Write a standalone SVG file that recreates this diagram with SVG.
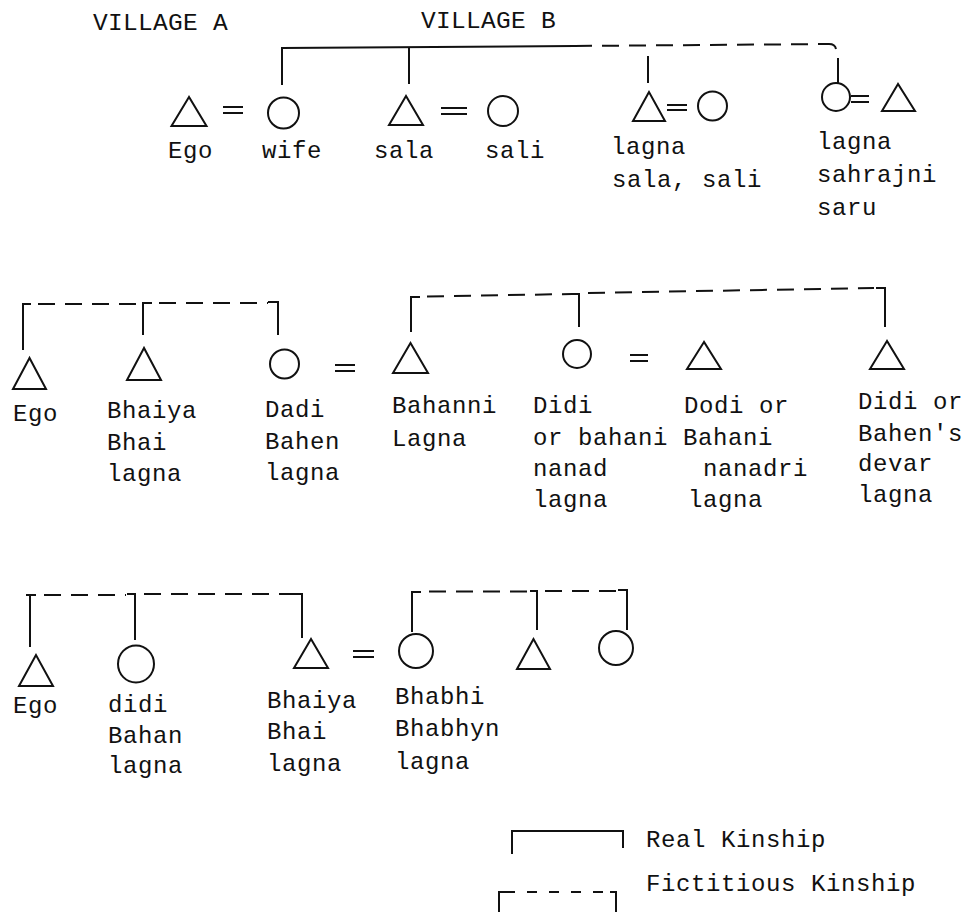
<svg xmlns="http://www.w3.org/2000/svg" width="972" height="912" viewBox="0 0 972 912">
<style>
text{font-family:"Liberation Mono","DejaVu Sans Mono",monospace;font-size:24px;letter-spacing:0.6px;fill:#111}
.hd{font-size:24.5px;letter-spacing:0.3px}
.sym{fill:none;stroke:#111;stroke-width:2}
.ln{fill:none;stroke:#111;stroke-width:2}
.ds{fill:none;stroke:#111;stroke-width:2;stroke-dasharray:17 10}
.dl{fill:none;stroke:#111;stroke-width:2;stroke-dasharray:10 12}
</style>
<rect width="972" height="912" fill="#fff"/>
<text class="hd" x="93" y="30">VILLAGE A</text>
<text class="hd" x="421" y="28">VILLAGE B</text>
<g id="connectors">
<path class="ln" d="M282,85 V48 L575,46"/>
<path class="ln" d="M409,84 V47"/>
<path class="ds" d="M575,46 L829,44"/>
<path class="ln" d="M829,44 Q835,44 836,49"/>
<path class="ln" d="M648,56 V83"/>
<path class="ln" d="M838,58 V83"/>
<path class="ln" d="M223,107 H243 M223,113 H243"/>
<path class="ln" d="M441,108 H467 M441,114 H467"/>
<path class="ln" d="M667,105 H687 M667,110 H687"/>
<path class="ln" d="M851,96 H869 M851,102 H869"/>
<path class="ln" d="M23,350 V304 H31"/>
<path class="ds" d="M38,304 H136"/>
<path class="ln" d="M143,335 V303 H152"/>
<path class="ds" d="M159,303 H268"/>
<path class="ln" d="M268,302 H278 V335"/>
<path class="ln" d="M411,332 V297 H420"/>
<path class="ds" d="M427,296.5 L572,294"/>
<path class="ln" d="M572,294 H579 V327"/>
<path class="ds" d="M588,293 L874,288"/>
<path class="ln" d="M876,288 H885 V327"/>
<path class="ln" d="M335,365 H355 M335,371 H355"/>
<path class="ln" d="M630,355 H648 M630,361 H648"/>
<path class="ln" d="M30,647 V595 M26,595 H36"/>
<path class="ds" d="M44,595 H126"/>
<path class="ln" d="M127,594 H135 V640"/>
<path class="ds" d="M144,594 H293"/>
<path class="ln" d="M293,594 H302 V638"/>
<path class="ln" d="M412,632 V592 H421"/>
<path class="ds" d="M429,591.5 H530"/>
<path class="ln" d="M530,591 H537 V630"/>
<path class="ds" d="M545,591 H618"/>
<path class="ln" d="M618,590 H627 V630"/>
<path class="ln" d="M353,651 H374 M353,657 H374"/>
</g>
<g id="top-ego"><polygon class="sym" points="189,97 171.5,126 206.5,126"/><text x="168" y="158">Ego</text></g>
<g id="top-wife"><circle class="sym" cx="283.5" cy="113" r="15.5"/><text x="262" y="158">wife</text></g>
<g id="top-sala"><polygon class="sym" points="406,96 389,125 423,125"/><text x="374" y="158">sala</text></g>
<g id="top-sali"><circle class="sym" cx="503" cy="111" r="15"/><text x="485" y="158">sali</text></g>
<g id="top-lagna-sala"><polygon class="sym" points="649,92 633,121 665,121"/><circle class="sym" cx="712.5" cy="106" r="14.5"/><text x="611" y="154">lagna</text><text x="612" y="187">sala, sali</text></g>
<g id="top-lagna-sahrajni"><circle class="sym" cx="836" cy="97" r="14"/><polygon class="sym" points="898,84 882,111 915,111"/><text x="817" y="149">lagna</text><text x="817" y="182">sahrajni</text><text x="817" y="215">saru</text></g>
<g id="mid-ego"><polygon class="sym" points="29.5,358 13,389 46,389"/><text x="13" y="421">Ego</text></g>
<g id="mid-bhaiya"><polygon class="sym" points="144,348 127,380 161,380"/><text x="107" y="418">Bhaiya</text><text x="107" y="450">Bhai</text><text x="107" y="481">lagna</text></g>
<g id="mid-dadi"><circle class="sym" cx="284.5" cy="364" r="14.5"/><text x="265" y="417">Dadi</text><text x="265" y="449">Bahen</text><text x="265" y="480">lagna</text></g>
<g id="mid-bahanni"><polygon class="sym" points="410.5,343 393,373 428,373"/><text x="392" y="413">Bahanni</text><text x="392" y="446">Lagna</text></g>
<g id="mid-didi"><circle class="sym" cx="577" cy="354" r="14"/><text x="533" y="413">Didi</text><text x="533" y="445">or bahani Bahani</text><text x="533" y="476">nanad</text><text x="533" y="507">lagna</text></g>
<g id="mid-dodi"><polygon class="sym" points="704,342 687,369 721,369"/><text x="684" y="413">Dodi or</text><text x="703" y="476">nanadri</text><text x="688" y="507">lagna</text></g>
<g id="mid-devar"><polygon class="sym" points="887,341 870,369 904,369"/><text x="858" y="409">Didi or</text><text x="858" y="441">Bahen's</text><text x="858" y="471">devar</text><text x="858" y="502">lagna</text></g>
<g id="bot-ego"><polygon class="sym" points="36,655 19,686 53,686"/><text x="13" y="713">Ego</text></g>
<g id="bot-didi"><ellipse class="sym" cx="136" cy="664" rx="18" ry="18.5"/><text x="108" y="712">didi</text><text x="108" y="743">Bahan</text><text x="108" y="773">lagna</text></g>
<g id="bot-bhaiya"><polygon class="sym" points="311,639 294,668 328,668"/><text x="267" y="708">Bhaiya</text><text x="267" y="739">Bhai</text><text x="267" y="771">lagna</text></g>
<g id="bot-bhabhi"><circle class="sym" cx="416" cy="651" r="17"/><text x="395" y="704">Bhabhi</text><text x="395" y="736">Bhabhyn</text><text x="395" y="769">lagna</text></g>
<g id="bot-sib-m"><polygon class="sym" points="533.5,639 517,669 550,669"/></g>
<g id="bot-sib-f"><circle class="sym" cx="616" cy="648" r="17"/></g>
<g id="legend">
<path class="ln" d="M512,854 V831 H623 V848"/>
<path class="dl" d="M505,892 H610"/>
<path class="ln" d="M499,912 V892 H505 M610,892 H616 V912"/>
<text x="646" y="847">Real Kinship</text>
<text x="646" y="891">Fictitious Kinship</text>
</g>
</svg>
